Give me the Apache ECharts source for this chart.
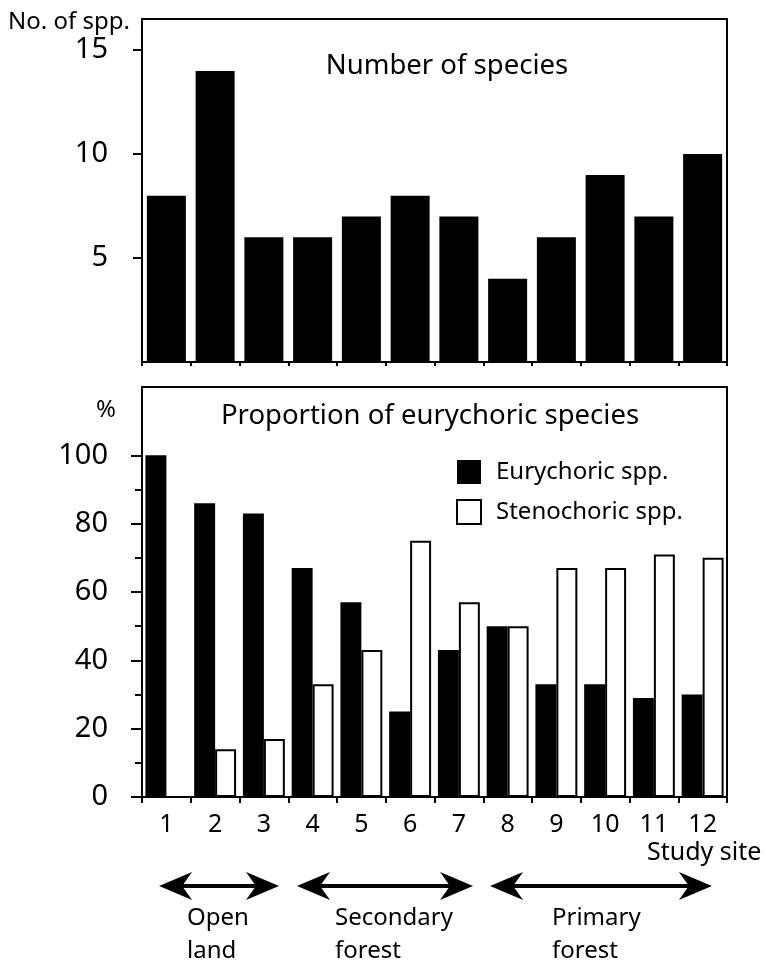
<!DOCTYPE html>
<html><head><meta charset="utf-8">
<script src="https://cdn.jsdelivr.net/npm/echarts@6/dist/echarts.min.js"></script>
<style>html,body{margin:0;padding:0;background:#fff}#c{width:766px;height:964px}</style>
</head><body><div id="c"></div>
<script>
// ---- data ----
const sites = ['1','2','3','4','5','6','7','8','9','10','11','12'];
const speciesCount = [8,14,6,6,7,8,7,4,6,9,7,10];
const eurychoricPct = [100,86,83,67,57,25,43,50,33,33,29,30];
const stenochoricPct = [0,14,17,33,43,75,57,50,67,67,71,70];
const countTicks = [5,10,15];
const pctTicks = [0,20,40,60,80,100];
const pctMinorTicks = [10,30,50,70,90];
const seriesNames = ['Eurychoric spp.','Stenochoric spp.'];
const habitatLabels = ['Open\nland','Secondary\nforest','Primary\nforest'];
const habitatFrom = ['1','4','8'];
const habitatTo = ['3','7','12'];

// ---- layout (not data) ----
const arrowLeftOff = [-0.15,-0.32,-0.36];
const arrowRightOff = [0.31,0.29,0.19];
const labelOff = [-32,-50,-49];

const FONT = '"Noto Sans", sans-serif';
const BLACK = '#000';
const chart = echarts.init(document.getElementById('c'));

const axisLine = {show:true, lineStyle:{color:BLACK, width:2}};
const option = {
  animation:false,
  textStyle:{fontFamily:FONT, color:BLACK},
  grid:[
    {left:142, top:19, width:585, height:343, show:true, borderColor:BLACK, borderWidth:2},
    {left:142, top:387, width:585, height:410, show:true, borderColor:BLACK, borderWidth:2}
  ],
  xAxis:[
    {type:'category', gridIndex:0, data:sites, axisLine:axisLine,
     axisTick:{show:true, length:4, lineStyle:{color:BLACK, width:2}}, axisLabel:{show:false}},
    {type:'category', gridIndex:1, data:sites, axisLine:axisLine,
     axisTick:{show:true, length:6, lineStyle:{color:BLACK, width:2}},
     axisLabel:{fontSize:25, color:BLACK, margin:15, fontFamily:FONT}}
  ],
  yAxis:[
    {type:'value', gridIndex:0, position:'left', min:0, max:16.5, interval:5, splitLine:{show:false}, axisLine:axisLine,
     axisTick:{show:true, length:9, customValues:countTicks, lineStyle:{color:BLACK, width:2}},
     axisLabel:{customValues:countTicks, fontSize:29, margin:34, color:BLACK, fontFamily:FONT}},
    {type:'value', gridIndex:1, position:'left', min:0, max:120, interval:20, splitLine:{show:false}, axisLine:axisLine,
     axisTick:{show:true, length:11, customValues:pctTicks, lineStyle:{color:BLACK, width:2}},
     axisLabel:{customValues:pctTicks, fontSize:29, margin:34, color:BLACK, fontFamily:FONT}},
    {type:'value', gridIndex:1, position:'left', offset:0, min:0, max:120, interval:10, splitLine:{show:false}, axisLine:{show:false},
     axisTick:{show:true, length:7, customValues:pctMinorTicks, lineStyle:{color:BLACK, width:2}},
     axisLabel:{show:false}}
  ],
  legend:{
    data:seriesNames, orient:'vertical', left:456, top:460, padding:0,
    itemWidth:24, itemHeight:24, itemGap:15, icon:'rect',
    textStyle:{fontSize:24, color:BLACK, fontFamily:FONT, padding:[0,0,0,10]}
  },
  series:[
    {type:'bar', name:'count', xAxisIndex:0, yAxisIndex:0, data:speciesCount, barCategoryGap:'20%',
     itemStyle:{color:BLACK}},
    {type:'bar', name:seriesNames[0], xAxisIndex:1, yAxisIndex:1, data:eurychoricPct,
     barGap:'0%', barCategoryGap:'14%', itemStyle:{color:BLACK}},
    {type:'bar', name:seriesNames[1], xAxisIndex:1, yAxisIndex:1, data:stenochoricPct,
     barGap:'0%', barCategoryGap:'14%', itemStyle:{color:'#fff', borderColor:BLACK, borderWidth:2}}
  ]
};
chart.setOption(option);

// ---- annotations placed from the axis scale ----
const c1 = chart.convertToPixel({xAxisIndex:1}, sites[0]);
const c2 = chart.convertToPixel({xAxisIndex:1}, sites[1]);
const band = c2 - c1;
const axisY = chart.convertToPixel({yAxisIndex:1}, 0);
const arrowY = axisY + 89;
const gfx = [];
const L = 33, H = 14, N = 23;
habitatLabels.forEach((lab, i) => {
  const xl = chart.convertToPixel({xAxisIndex:1}, habitatFrom[i]) + arrowLeftOff[i]*band;
  const xr = chart.convertToPixel({xAxisIndex:1}, habitatTo[i]) + arrowRightOff[i]*band;
  gfx.push({type:'line', shape:{x1:xl+N, y1:arrowY, x2:xr-N, y2:arrowY}, style:{stroke:BLACK, lineWidth:4}});
  gfx.push({type:'polygon', shape:{points:[[xl,arrowY],[xl+L,arrowY-H],[xl+N,arrowY],[xl+L,arrowY+H]]}, style:{fill:BLACK}});
  gfx.push({type:'polygon', shape:{points:[[xr,arrowY],[xr-L,arrowY-H],[xr-N,arrowY],[xr-L,arrowY+H]]}, style:{fill:BLACK}});
  gfx.push({type:'text', x:(xl+xr)/2 + labelOff[i], y:axisY+104.5,
    style:{text:lab, fontSize:24, fontFamily:FONT, fill:BLACK, align:'left', verticalAlign:'top', lineHeight:33}});
});
gfx.push({type:'text', x:8, y:22, style:{text:'No. of spp.', fontSize:24, fontFamily:FONT, fill:BLACK, align:'left', verticalAlign:'middle'}});
gfx.push({type:'text', x:447, y:66, style:{text:'Number of species', fontSize:27.5, fontFamily:FONT, fill:BLACK, align:'center', verticalAlign:'middle'}});
gfx.push({type:'text', x:106, y:410, style:{text:'%', fontSize:24, fontFamily:FONT, fill:BLACK, align:'center', verticalAlign:'middle'}});
gfx.push({type:'text', x:430, y:416, style:{text:'Proportion of eurychoric species', fontSize:27.5, fontFamily:FONT, fill:BLACK, align:'center', verticalAlign:'middle'}});
gfx.push({type:'text', x:647, y:853, style:{text:'Study site', fontSize:25, fontFamily:FONT, fill:BLACK, align:'left', verticalAlign:'middle'}});
chart.setOption({graphic:gfx});
</script></body></html>
